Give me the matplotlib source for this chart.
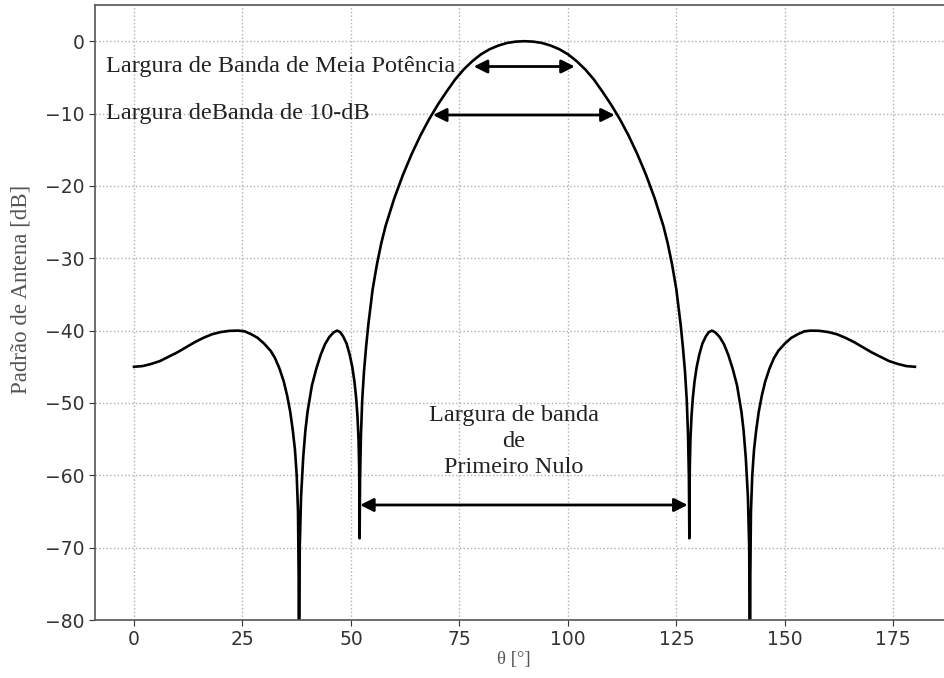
import matplotlib.pyplot as plt

# antenna pattern sampled in degrees / dB
theta = [
    0, 2, 4, 6, 8, 10, 12, 14, 16, 18, 20, 22, 24, 25.5, 27, 28.5, 30, 31.5,
    32.5, 33.5, 34.5, 35.3, 36.0, 36.6, 37.1, 37.5, 37.8, 37.95, 38.0, 38.2,
    38.5, 39.0, 39.5, 40.0, 41.0, 42.0, 43.0, 44.0, 45.0, 46.0, 46.8, 47.5,
    48.2, 49.0, 49.7, 50.3, 50.8, 51.2, 51.5, 51.75, 51.9, 52.0, 52.1, 52.3,
    52.6, 53.0, 53.5, 54, 55, 56, 57, 58, 60, 62, 64, 66, 68, 70, 72, 74, 76,
    78, 80, 82, 84, 86, 88, 90,
    92, 94, 96, 98, 100, 102, 104, 106, 108, 110, 112, 114, 116, 118, 120,
    122, 123, 124, 125, 126, 126.5, 127, 127.4, 127.7, 127.9, 128.0, 128.1,
    128.25, 128.5, 128.8, 129.2, 129.7, 130.3, 131.0, 131.8, 132.5, 133.2,
    134.0, 135.0, 136.0, 137.0, 138.0, 139.0, 140.0, 140.5, 141.0, 141.5,
    141.8, 142.0, 142.05, 142.2, 142.5, 142.9, 143.4, 144.0, 144.7, 145.5,
    146.5, 147.5, 148.5, 150, 151.5, 153, 154.5, 156, 158, 160, 162, 164,
    166, 168, 170, 172, 174, 176, 178, 180,
]
pattern_db = [
    -45.0, -44.9, -44.6, -44.2, -43.6, -43.0, -42.3, -41.6, -41.0, -40.5,
    -40.2, -40.03, -40.0, -40.1, -40.5, -41.0, -41.8, -42.8, -43.8, -45.2,
    -47.0, -49.0, -51.2, -53.8, -56.5, -60.0, -65.0, -74.0, -100.0, -70.0,
    -63.0, -57.5, -53.8, -51.2, -47.6, -45.3, -43.4, -41.9, -40.9, -40.25,
    -40.0, -40.2, -40.8, -41.8, -43.3, -45.0, -47.0, -49.3, -51.8, -55.0,
    -59.0, -68.7, -60.5, -54.5, -49.6, -45.7, -42.2, -39.2, -34.3, -30.8,
    -27.9, -25.5, -21.7, -18.45, -15.6, -13.05, -10.8, -8.8, -7.0, -5.3,
    -3.9, -2.75, -1.8, -1.1, -0.6, -0.24, -0.06, 0.0,
    -0.06, -0.24, -0.6, -1.1, -1.8, -2.75, -3.9, -5.3, -7.0, -8.8, -10.8,
    -13.05, -15.6, -18.45, -21.7, -25.5, -27.9, -30.8, -34.3, -39.2, -42.2,
    -45.7, -49.6, -54.5, -60.5, -68.7, -59.0, -55.0, -51.8, -49.3, -47.0,
    -45.0, -43.3, -41.8, -40.8, -40.2, -40.0, -40.25, -40.9, -41.9, -43.4,
    -45.3, -47.6, -51.2, -53.8, -57.5, -63.0, -70.0, -100.0, -74.0, -65.0,
    -60.0, -56.5, -53.8, -51.2, -49.0, -47.0, -45.2, -43.8, -42.8, -41.8,
    -41.0, -40.5, -40.1, -40.0, -40.03, -40.2, -40.5, -41.0, -41.6, -42.3,
    -43.0, -43.6, -44.2, -44.6, -44.9, -45.0,
]

# beamwidth markers: (start, end, level)
hpbw = (78.3, 101.6, -3.5)
bw_10db = (68.9, 110.8, -10.2)
fnbw = (52.1, 127.6, -64.1)

xticks = [0, 25, 50, 75, 100, 125, 150, 175]
yticks = [0, -10, -20, -30, -40, -50, -60, -70, -80]

serif = ["Liberation Serif", "DejaVu Serif"]

fig = plt.figure(figsize=(9.44, 6.78), dpi=100)
ax = fig.add_axes([0.1006, 0.0855, 0.91, 0.9071])

ax.plot(theta, pattern_db, color="black", lw=1.9, solid_joinstyle="round")

ax.set_xlim(-9, 189)
ax.set_ylim(-80, 5)
ax.set_xticks(xticks)
ax.set_yticks(yticks)
ax.grid(True, linestyle=":", color="#b0b0b0", lw=1.0)
ax.tick_params(labelsize=13.5, colors="#333333", length=4)
for s in ax.spines.values():
    s.set_color("#555555")
    s.set_linewidth(1.2)

ax.set_xlabel("θ [°]", family=serif, fontsize=13.5, color="#555555")
ax.set_ylabel("Padrão de Antena [dB]", family=serif, fontsize=16.5,
              color="#555555", va="center")
ax.xaxis.set_label_coords(0.488, -0.05)
ax.yaxis.set_label_coords(-0.086, 0.537)

arrow = dict(arrowstyle="<|-|>", color="black", lw=2.0, mutation_scale=20,
             shrinkA=0, shrinkB=0)
for x0, x1, lvl in (hpbw, bw_10db, fnbw):
    ax.annotate("", xy=(x1, lvl), xytext=(x0, lvl), arrowprops=arrow)

ax.text(-6.4, -3.5, "Largura de Banda de Meia Potência", family=serif,
        fontsize=17.5, va="center", ha="left", color="#222222")
ax.text(-6.4, -10.0, "Largura deBanda de 10-dB", family=serif,
        fontsize=17.5, va="center", ha="left", color="#222222")
ax.text(87.5, -55.3, "Largura de banda\nde\nPrimeiro Nulo", family=serif,
        fontsize=17.5, va="center", ha="center", color="#222222",
        linespacing=1.32)

fig.savefig("out.png", dpi=100)
